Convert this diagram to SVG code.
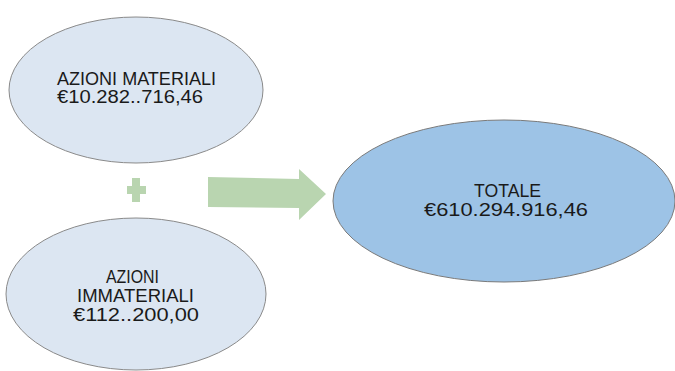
<svg xmlns="http://www.w3.org/2000/svg" width="675" height="371" viewBox="0 0 675 371">
<style>
.bg{fill:#ffffff}
.light{fill:#dce6f2;stroke:#8a8a8a;stroke-width:1}
.dark{fill:#9dc3e6;stroke:#7a7a7a;stroke-width:1}
.green{fill:#b9d5b0}
text{font-family:"Liberation Sans",Arial,sans-serif;font-size:18px;fill:#1a1a1a;text-anchor:middle}
</style>
<rect class="bg" width="675" height="371"/>
<g id="connectors">
<polygon class="green" points="208,177 299,179 299,169 326,194 299,220 299,208 208,207"/>
<g id="plus">
<rect class="green" x="127" y="186" width="19" height="8"/>
<rect class="green" x="132" y="178" width="8" height="24"/>
</g>
</g>
<g id="azioni-materiali">
<ellipse class="light" cx="136" cy="90" rx="127" ry="73"/>
<text x="136.5" y="85" textLength="159" lengthAdjust="spacingAndGlyphs">AZIONI MATERIALI</text>
<text x="130" y="103" textLength="146" lengthAdjust="spacingAndGlyphs">€10.282..716,46</text>
</g>
<g id="azioni-immateriali">
<ellipse class="light" cx="136" cy="294" rx="130" ry="76"/>
<text x="132.5" y="283" textLength="53" lengthAdjust="spacingAndGlyphs">AZIONI</text>
<text x="135.5" y="302" textLength="117" lengthAdjust="spacingAndGlyphs">IMMATERIALI</text>
<text x="136" y="321" textLength="126" lengthAdjust="spacingAndGlyphs">€112..200,00</text>
</g>
<g id="totale">
<ellipse class="dark" cx="504" cy="201" rx="171" ry="81"/>
<text x="507.5" y="197" textLength="67" lengthAdjust="spacingAndGlyphs">TOTALE</text>
<text x="506" y="216" textLength="164" lengthAdjust="spacingAndGlyphs">€610.294.916,46</text>
</g>
</svg>
